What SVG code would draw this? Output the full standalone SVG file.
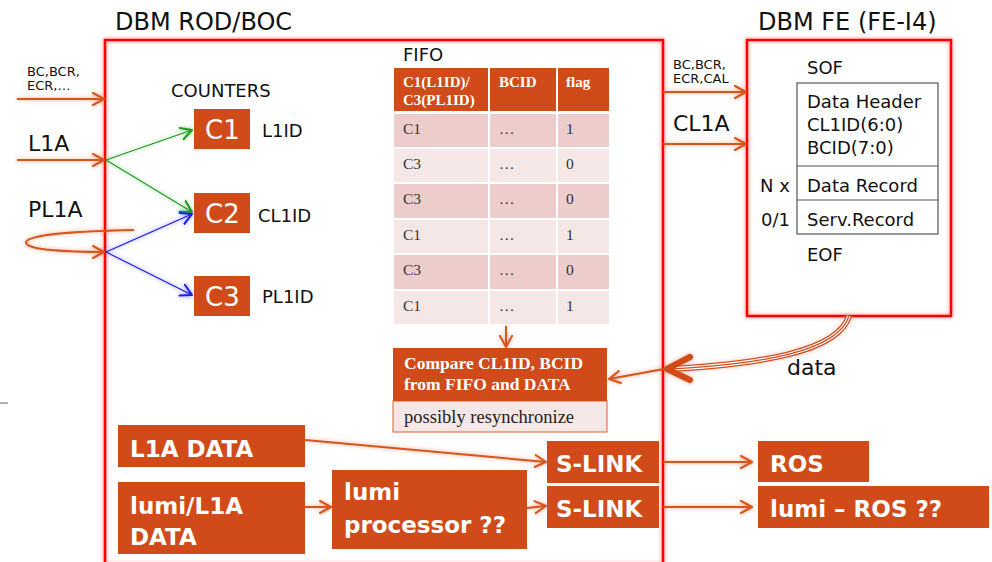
<svg xmlns="http://www.w3.org/2000/svg" width="992" height="562" viewBox="0 0 992 562">
  <style>
    .sans { font-family: "DejaVu Sans", "Liberation Sans", sans-serif; fill: #111; }
    .serif { font-family: "Liberation Serif", "DejaVu Serif", serif; }
    .box { fill: #D04B19; }
    .wt { font-family: "DejaVu Sans", "Liberation Sans", sans-serif; fill: #fff; }
    .big { font-family: "DejaVu Sans", "Liberation Sans", sans-serif; fill: #fff; font-weight: bold; font-size: 23px; }
    .frame { fill: none; stroke: #FF0000; stroke-width: 2.5; }
    .arr { fill: none; stroke: #D8551E; stroke-width: 2; }
    .hd { fill: #D04B19; }
    .rowA { fill: #EDCDCB; }
    .rowB { fill: #F5E7E6; }
    .cell { font-family: "Liberation Serif", "DejaVu Serif", serif; font-size: 15.5px; fill: #333; }
    .hdt { font-family: "Liberation Serif", "DejaVu Serif", serif; font-size: 15px; font-weight: bold; fill: #fff; }
  </style>
  <defs>
    <filter id="glow" filterUnits="userSpaceOnUse" x="0" y="0" width="992" height="562">
      <feGaussianBlur in="SourceGraphic" stdDeviation="2.2" result="b"/>
      <feComponentTransfer in="b" result="bf"><feFuncA type="linear" slope="0.55"/></feComponentTransfer>
      <feMerge><feMergeNode in="bf"/><feMergeNode in="SourceGraphic"/></feMerge>
    </filter>
    <marker id="ah" markerUnits="userSpaceOnUse" markerWidth="16" markerHeight="16" refX="12" refY="7" orient="auto">
      <path d="M1,1 L12,7 L1,13" fill="none" stroke="#D8551E" stroke-width="2" stroke-linecap="round" stroke-linejoin="round"/>
    </marker>
    <marker id="ahG" markerUnits="userSpaceOnUse" markerWidth="16" markerHeight="16" refX="12" refY="7" orient="auto">
      <path d="M1,1 L12,7 L1,13" fill="none" stroke="#1E9A1E" stroke-width="2" stroke-linecap="round" stroke-linejoin="round"/>
    </marker>
    <marker id="ahB" markerUnits="userSpaceOnUse" markerWidth="16" markerHeight="16" refX="12" refY="7" orient="auto">
      <path d="M1,1 L12,7 L1,13" fill="none" stroke="#1A1AE6" stroke-width="2" stroke-linecap="round" stroke-linejoin="round"/>
    </marker>
  </defs>

  <rect width="992" height="562" fill="#fff"/>

  <!-- stray tick at the left margin -->
  <line x1="0" y1="403" x2="8" y2="403" stroke="#666" stroke-width="1"/>

  <!-- ROD/BOC frame (runs past the bottom edge) -->
  <g id="rodboc">
    <rect class="frame" x="105" y="40" width="558" height="525" filter="url(#glow)"/>
    <text class="sans" x="115" y="30" font-size="24">DBM ROD/BOC</text>
  </g>

  <!-- FE frame -->
  <g id="fe">
    <rect class="frame" x="747" y="40" width="204" height="276" filter="url(#glow)"/>
    <text class="sans" x="758" y="30" font-size="24">DBM FE (FE-I4)</text>
    <text class="sans" x="807" y="74" font-size="18">SOF</text>
    <rect x="797" y="83" width="141" height="151" fill="none" stroke="#555" stroke-width="1.2"/>
    <line x1="797" y1="166" x2="938" y2="166" stroke="#555" stroke-width="1.2"/>
    <line x1="797" y1="200" x2="938" y2="200" stroke="#555" stroke-width="1.2"/>
    <text class="sans" x="807" y="108" font-size="18">Data Header</text>
    <text class="sans" x="807" y="131" font-size="18">CL1ID(6:0)</text>
    <text class="sans" x="807" y="154" font-size="18">BCID(7:0)</text>
    <text class="sans" x="807" y="192" font-size="18">Data Record</text>
    <text class="sans" x="807" y="226" font-size="18">Serv.Record</text>
    <text class="sans" x="760" y="192" font-size="18">N x</text>
    <text class="sans" x="761" y="226" font-size="18">0/1</text>
    <text class="sans" x="807" y="261" font-size="18">EOF</text>
  </g>

  <!-- counters -->
  <g id="counters">
    <text class="sans" x="171" y="97" font-size="18">COUNTERS</text>
  </g>
  <g id="c1">
    <rect class="box" x="194" y="109" width="56" height="40"/>
    <text class="wt" x="205" y="139" font-size="26">C1</text>
    <text class="sans" x="262" y="137" font-size="18">L1ID</text>
  </g>
  <g id="c2">
    <rect class="box" x="194" y="193" width="56" height="40"/>
    <text class="wt" x="205" y="223" font-size="26">C2</text>
    <text class="sans" x="258" y="222" font-size="18">CL1ID</text>
  </g>
  <g id="c3">
    <rect class="box" x="194" y="276" width="56" height="40"/>
    <text class="wt" x="205" y="306" font-size="26">C3</text>
    <text class="sans" x="262" y="303" font-size="18">PL1ID</text>
  </g>

  <!-- FIFO table -->
  <g id="fifo">
    <text class="sans" x="403" y="61" font-size="18">FIFO</text>
    <rect class="hd" x="394" y="68" width="94" height="43"/>
    <rect class="hd" x="490" y="68" width="66" height="43"/>
    <rect class="hd" x="558" y="68" width="51" height="43"/>
    <text class="hdt" x="403" y="87">C1(L1ID)/</text>
    <text class="hdt" x="403" y="105">C3(PL1ID)</text>
    <text class="hdt" x="499" y="87">BCID</text>
    <text class="hdt" x="566" y="87">flag</text>

    <g class="rowA"><rect x="394" y="114" width="94" height="33"/><rect x="490" y="114" width="66" height="33"/><rect x="558" y="114" width="51" height="33"/></g>
    <g class="rowB"><rect x="394" y="149" width="94" height="33"/><rect x="490" y="149" width="66" height="33"/><rect x="558" y="149" width="51" height="33"/></g>
    <g class="rowA"><rect x="394" y="184" width="94" height="34"/><rect x="490" y="184" width="66" height="34"/><rect x="558" y="184" width="51" height="34"/></g>
    <g class="rowB"><rect x="394" y="220" width="94" height="33"/><rect x="490" y="220" width="66" height="33"/><rect x="558" y="220" width="51" height="33"/></g>
    <g class="rowA"><rect x="394" y="255" width="94" height="34"/><rect x="490" y="255" width="66" height="34"/><rect x="558" y="255" width="51" height="34"/></g>
    <g class="rowB"><rect x="394" y="291" width="94" height="33"/><rect x="490" y="291" width="66" height="33"/><rect x="558" y="291" width="51" height="33"/></g>

    <text class="cell" x="403" y="134">C1</text><text class="cell" x="499" y="134">…</text><text class="cell" x="566" y="134">1</text>
    <text class="cell" x="403" y="169">C3</text><text class="cell" x="499" y="169">…</text><text class="cell" x="566" y="169">0</text>
    <text class="cell" x="403" y="204">C3</text><text class="cell" x="499" y="204">…</text><text class="cell" x="566" y="204">0</text>
    <text class="cell" x="403" y="240">C1</text><text class="cell" x="499" y="240">…</text><text class="cell" x="566" y="240">1</text>
    <text class="cell" x="403" y="275">C3</text><text class="cell" x="499" y="275">…</text><text class="cell" x="566" y="275">0</text>
    <text class="cell" x="403" y="311">C1</text><text class="cell" x="499" y="311">…</text><text class="cell" x="566" y="311">1</text>
  </g>

  <!-- compare block -->
  <g id="compare">
    <rect x="393" y="401" width="214" height="31" fill="#F5E7E6" stroke="#E07A50" stroke-width="1.2"/>
    <rect class="box" x="393" y="348" width="214" height="53"/>
    <text class="serif" x="404" y="369" font-size="17.5" font-weight="bold" fill="#fff">Compare CL1ID, BCID</text>
    <text class="serif" x="404" y="390" font-size="17.5" font-weight="bold" fill="#fff">from FIFO and DATA</text>
    <text class="serif" x="404" y="423" font-size="18.5" fill="#222">possibly resynchronize</text>
  </g>

  <!-- data output blocks -->
  <g id="l1a-data">
    <rect class="box" x="118" y="425" width="187" height="42"/>
    <text class="big" x="130" y="457">L1A DATA</text>
  </g>
  <g id="lumi-data">
    <rect class="box" x="118" y="482" width="187" height="72"/>
    <text class="big" x="130" y="514">lumi/L1A</text>
    <text class="big" x="130" y="545">DATA</text>
  </g>
  <g id="lumi-proc">
    <rect class="box" x="332" y="470" width="195" height="79"/>
    <text class="big" x="344" y="500">lumi</text>
    <text class="big" x="344" y="533">processor ??</text>
  </g>
  <g id="slink1">
    <rect class="box" x="547" y="441" width="112" height="42"/>
    <text class="big" x="556" y="472">S-LINK</text>
  </g>
  <g id="slink2">
    <rect class="box" x="547" y="486" width="112" height="42"/>
    <text class="big" x="556" y="517">S-LINK</text>
  </g>
  <g id="ros">
    <rect class="box" x="758" y="441" width="111" height="41"/>
    <text class="big" x="770" y="472">ROS</text>
  </g>
  <g id="lumi-ros">
    <rect class="box" x="758" y="486" width="231" height="42"/>
    <text class="big" x="770" y="517">lumi – ROS ??</text>
  </g>

  <!-- input labels -->
  <g id="inputs">
    <text class="sans" x="27" y="76" font-size="13">BC,BCR,</text>
    <text class="sans" x="27" y="90" font-size="13">ECR,…</text>
    <text class="sans" x="28" y="151" font-size="22">L1A</text>
    <text class="sans" x="28" y="217" font-size="22">PL1A</text>
    <text class="sans" x="673" y="69" font-size="13">BC,BCR,</text>
    <text class="sans" x="673" y="83" font-size="13">ECR,CAL</text>
    <text class="sans" x="673" y="131" font-size="22">CL1A</text>
    <text class="sans" x="787" y="375" font-size="22">data</text>
  </g>

  <!-- connectors -->
  <g id="connectors">
    <g filter="url(#glow)">
      <line class="arr" x1="17" y1="99" x2="104" y2="99" marker-end="url(#ah)"/>
      <line class="arr" x1="17" y1="160" x2="104" y2="160" marker-end="url(#ah)"/>
      <path class="arr" d="M134,230 C90,231 30,233 26,242 C24,250 70,252 104,252" marker-end="url(#ah)"/>
      <line class="arr" x1="663" y1="92" x2="746" y2="92" marker-end="url(#ah)"/>
      <line class="arr" x1="663" y1="144" x2="746" y2="144" marker-end="url(#ah)"/>
      <line class="arr" x1="506" y1="326" x2="506" y2="347" marker-end="url(#ah)"/>
      <line class="arr" x1="664" y1="369" x2="609" y2="379" marker-end="url(#ah)"/>
      <line class="arr" x1="305" y1="440" x2="546" y2="462" marker-end="url(#ah)"/>
      <line class="arr" x1="305" y1="507" x2="331" y2="507" marker-end="url(#ah)"/>
      <line class="arr" x1="527" y1="508" x2="546" y2="506" marker-end="url(#ah)"/>
      <line class="arr" x1="663" y1="462" x2="752" y2="462" marker-end="url(#ah)"/>
      <line class="arr" x1="663" y1="507" x2="752" y2="507" marker-end="url(#ah)"/>
    </g>
    <g filter="url(#glow)">
      <line x1="106" y1="160" x2="192" y2="130" stroke="#1E9A1E" stroke-width="1.2" marker-end="url(#ahG)"/>
      <line x1="106" y1="160" x2="192" y2="212" stroke="#1E9A1E" stroke-width="1.2" marker-end="url(#ahG)"/>
      <line x1="106" y1="252" x2="192" y2="214" stroke="#1A1AE6" stroke-width="1.2" marker-end="url(#ahB)"/>
      <line x1="106" y1="252" x2="192" y2="295" stroke="#1A1AE6" stroke-width="1.2" marker-end="url(#ahB)"/>
    </g>
    <!-- triple-line data path from the FE -->
    <g filter="url(#glow)">
      <path d="M849,316 C838,352 760,364 670,369" fill="none" stroke="#D04B19" stroke-width="6"/>
      <path d="M849,316 C838,352 760,364 670,369" fill="none" stroke="#fff" stroke-width="3.6"/>
      <path d="M849,316 C838,352 760,364 670,369" fill="none" stroke="#D04B19" stroke-width="1.2"/>
      <path d="M690,357 L667,369 L690,380" fill="none" stroke="#D04B19" stroke-width="6" stroke-linecap="round" stroke-linejoin="round"/>
    </g>
  </g>
</svg>
